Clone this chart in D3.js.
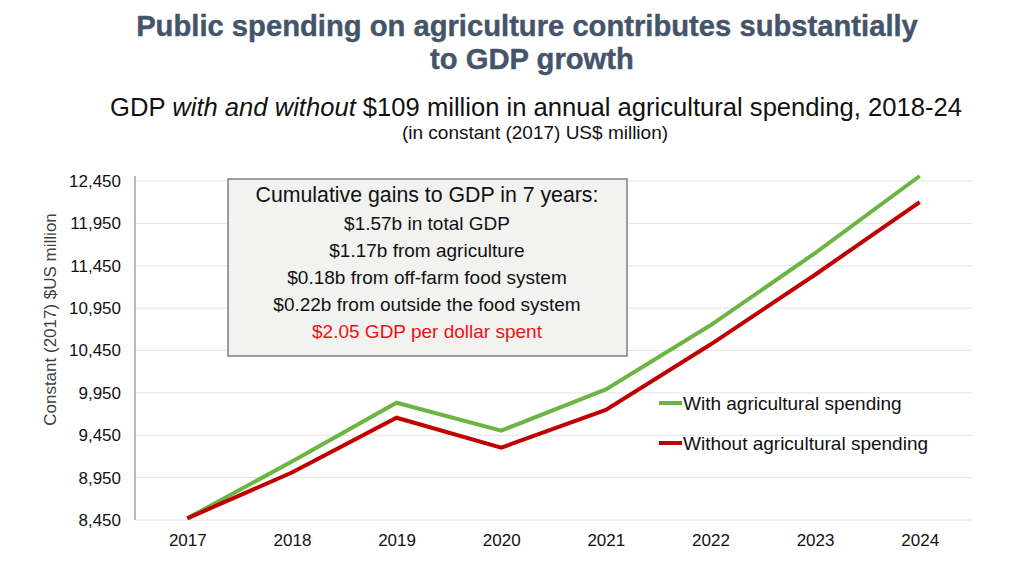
<!DOCTYPE html>
<html>
<head>
<meta charset="utf-8">
<script src="https://cdn.jsdelivr.net/npm/d3@7"></script>
<style>
  body { margin: 0; background: #fff; }
  svg { display: block; font-family: "Liberation Sans", Arial, sans-serif; }
</style>
</head>
<body>
<svg id="chart" width="1024" height="576"></svg>
<script>
const years = [2017, 2018, 2019, 2020, 2021, 2022, 2023, 2024];
const withSpending = [8470, 9140, 9834, 9504, 9990, 10747, 11600, 12509];
const withoutSpending = [8470, 9010, 9657, 9303, 9750, 10520, 11344, 12202];
const yTicks = [8450, 8950, 9450, 9950, 10450, 10950, 11450, 11950, 12450];
const seriesNames = ["With agricultural spending", "Without agricultural spending"];
const boxLines = [
  "Cumulative gains to GDP in 7 years:",
  "$1.57b in total GDP",
  "$1.17b from agriculture",
  "$0.18b from off-farm food system",
  "$0.22b from outside the food system",
  "$2.05 GDP per dollar spent"
];

const svg = d3.select("#chart");
const mLeft = 135, mRight = 972, mTop = 181, mBottom = 520;

const x = d3.scalePoint().domain(years).range([mLeft, mRight]).padding(0.5);
const y = d3.scaleLinear().domain([8450, 12450]).range([mBottom, mTop]);

// Titles
svg.append("text").attr("x", 527).attr("y", 36).attr("text-anchor", "middle")
  .attr("font-size", 29.2).attr("font-weight", "bold").attr("fill", "#44546a")
  .attr("stroke", "#44546a").attr("stroke-width", 0.4)
  .text("Public spending on agriculture contributes substantially");
svg.append("text").attr("x", 532).attr("y", 69).attr("text-anchor", "middle")
  .attr("font-size", 29.2).attr("font-weight", "bold").attr("fill", "#44546a")
  .attr("stroke", "#44546a").attr("stroke-width", 0.4)
  .text("to GDP growth");

const sub = svg.append("text").attr("x", 536).attr("y", 116).attr("text-anchor", "middle")
  .attr("font-size", 25.6).attr("fill", "#111");
sub.append("tspan").text("GDP ");
sub.append("tspan").attr("font-style", "italic").text("with and without");
sub.append("tspan").text(" $109 million in annual agricultural spending, 2018-24");

svg.append("text").attr("x", 535).attr("y", 139).attr("text-anchor", "middle")
  .attr("font-size", 19).attr("fill", "#111")
  .text("(in constant (2017) US$ million)");

// Gridlines
svg.append("g").selectAll("line").data(yTicks).join("line")
  .attr("x1", mLeft).attr("x2", mRight)
  .attr("y1", d => y(d)).attr("y2", d => y(d))
  .attr("stroke", "#e4e4e4").attr("stroke-width", 1);

// Y axis
const yAxis = svg.append("g").attr("transform", `translate(${mLeft},0)`)
  .call(d3.axisLeft(y).tickValues(yTicks).tickSize(0).tickPadding(14).tickFormat(d3.format(",")));
yAxis.select(".domain").attr("stroke", "#a6a6a6").attr("stroke-width", 1.5)
  .attr("d", `M0,${mTop - 5}V${mBottom}`);
yAxis.selectAll("text").attr("font-size", 17).attr("fill", "#111")
  .attr("font-family", "Liberation Sans, Arial, sans-serif");

// X axis
const xAxis = svg.append("g").attr("transform", `translate(0,${mBottom})`)
  .call(d3.axisBottom(x).tickSize(0).tickPadding(14).tickFormat(d3.format("d")));
xAxis.select(".domain").remove();
xAxis.selectAll("text").attr("font-size", 17).attr("fill", "#111")
  .attr("font-family", "Liberation Sans, Arial, sans-serif");

// Y axis title
svg.append("text").attr("transform", `translate(56,${(mTop + mBottom) / 2 - 31}) rotate(-90)`)
  .attr("text-anchor", "middle").attr("font-size", 17).attr("fill", "#404040")
  .text("Constant (2017) $US million");

// Lines
const line = d3.line().x((d, i) => x(years[i])).y(d => y(d));
svg.append("path").datum(withSpending).attr("d", line)
  .attr("fill", "none").attr("stroke", "#6cb543").attr("stroke-width", 4).attr("stroke-linejoin", "miter");
svg.append("path").datum(withoutSpending).attr("d", line)
  .attr("fill", "none").attr("stroke", "#c00000").attr("stroke-width", 4).attr("stroke-linejoin", "miter");

// Annotation box
svg.append("rect").attr("x", 228).attr("y", 179).attr("width", 399).attr("height", 177)
  .attr("fill", "#f2f2f0").attr("stroke", "#7f7f7f").attr("stroke-width", 1.5);
const boxY = [202, 230, 257, 284, 311, 338];
svg.append("g").selectAll("text").data(boxLines).join("text")
  .attr("x", 427).attr("y", (d, i) => boxY[i]).attr("text-anchor", "middle")
  .attr("font-size", (d, i) => i === 0 ? 21.3 : 19)
  .attr("fill", (d, i) => i === boxLines.length - 1 ? "#ee1111" : "#111")
  .text(d => d);

// Legend
const legendColors = ["#6cb543", "#c00000"];
const lg = svg.append("g").selectAll("g").data(seriesNames).join("g")
  .attr("transform", (d, i) => `translate(659,${403 + i * 40})`);
lg.append("line").attr("x1", 0).attr("x2", 23).attr("y1", 0).attr("y2", 0)
  .attr("stroke", (d, i) => legendColors[i]).attr("stroke-width", 4);
lg.append("text").attr("x", 24).attr("y", 7).attr("font-size", 19).attr("fill", "#111")
  .text(d => d);
</script>
</body>
</html>
